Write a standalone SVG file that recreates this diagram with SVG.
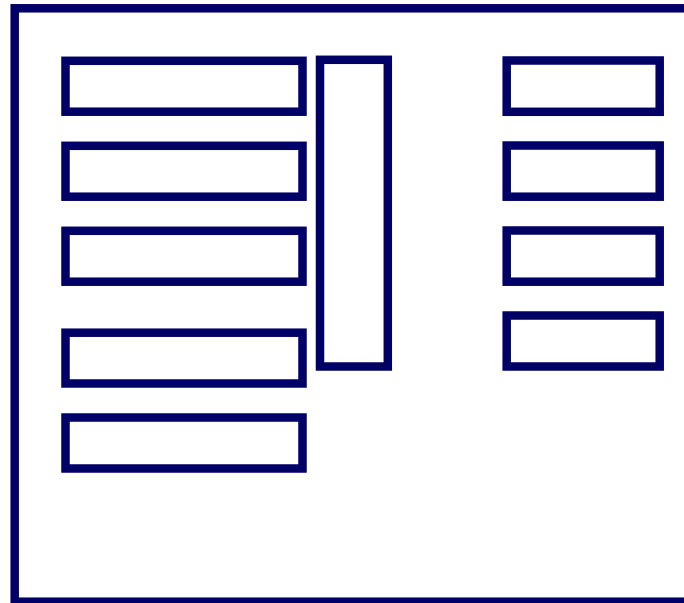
<svg xmlns="http://www.w3.org/2000/svg" width="684" height="603" viewBox="0 0 684 603">
<style>
.b{fill:#ffffff;stroke:#000066;stroke-width:8.5}
</style>
<rect width="684" height="603" fill="#ffffff"/>
<g id="frame"><rect class="b" x="14.7" y="8.3" width="700" height="593.4"/></g>
<g id="n1"><rect class="b" x="65.5" y="60.8" width="237" height="50.9"/></g>
<g id="n2"><rect class="b" x="65.5" y="145.8" width="237" height="50.9"/></g>
<g id="n3"><rect class="b" x="65.5" y="230.8" width="237" height="50.9"/></g>
<g id="n4"><rect class="b" x="65.5" y="332.7" width="237" height="50.8"/></g>
<g id="n5"><rect class="b" x="65.5" y="417.5" width="237" height="51"/></g>
<g id="n6"><rect class="b" x="320" y="59.8" width="67.8" height="306.7"/></g>
<g id="n7"><rect class="b" x="506.7" y="60.5" width="153" height="51.3"/></g>
<g id="n8"><rect class="b" x="506.7" y="145.5" width="153" height="51.2"/></g>
<g id="n9"><rect class="b" x="506.7" y="230.5" width="153" height="51.2"/></g>
<g id="n10"><rect class="b" x="506.7" y="315.5" width="153" height="51"/></g>
<g id="connectors"></g>
</svg>
